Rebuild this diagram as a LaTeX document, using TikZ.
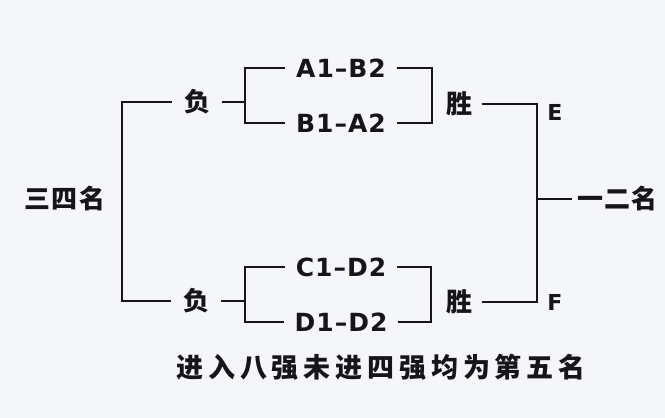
\documentclass[tikz,border=0pt]{standalone}
\usepackage{fontspec}
\newfontfamily\cjkwide{Noto Sans CJK SC}[LetterSpace=4]
\newfontfamily\cjkplain{Noto Sans CJK SC}
\newfontfamily\cjknote{Noto Sans CJK SC}[LetterSpace=18]
\newfontfamily\latinwide{DejaVu Sans}[LetterSpace=4]
\newfontfamily\latinplain{DejaVu Sans}
\definecolor{paper}{RGB}{245,246,248}
\definecolor{ink}{RGB}{22,22,24}
\tikzset{
  rank/.style={font=\cjkwide\bfseries\fontsize{26}{28}\selectfont, inner ysep=0pt, inner xsep=5pt},
  lose/.style={font=\cjkplain\bfseries\fontsize{26}{28}\selectfont, inner ysep=0pt, inner xsep=11pt},
  win/.style={font=\cjkplain\bfseries\fontsize{26}{28}\selectfont, inner ysep=0pt, inner xsep=9pt},
  game/.style={font=\latinwide\bfseries\fontsize{25}{27}\selectfont, inner ysep=0pt, inner xsep=10pt},
  team/.style={font=\latinplain\bfseries\fontsize{22}{24}\selectfont, inner sep=0pt},
  note/.style={font=\cjknote\bfseries\fontsize{27}{29}\selectfont, inner sep=0pt}
}
\begin{document}
\begin{tikzpicture}[x=1pt,y=-1pt,line width=1.4pt,draw=ink,text=ink]
  \fill[paper] (0,0) rectangle (665,418);
  \useasboundingbox (0,0) rectangle (665,418);
  \node[rank] (sansi) at (65,199) {三四名};
  \node[lose] (fuA) at (197,102) {负};
  \node[lose] (fuC) at (196,301) {负};
  \node[game] (AB) at (341,68) {A1–B2};
  \node[game] (BA) at (341,123) {B1–A2};
  \node[game] (CD) at (341,267) {C1–D2};
  \node[game] (DD) at (341,322) {D1–D2};
  \node[win] (shengA) at (459,104) {胜};
  \node[win] (shengC) at (459,302) {胜};
  \node[team] (E) at (555,112) {E};
  \node[team] (F) at (555,302) {F};
  \node[rank,anchor=west] (yier) at (572,199) {一二名};
  \node[note] (note) at (381,367) {进入八强未进四强均为第五名};
  \coordinate (L) at (122,200);
  \coordinate (lA) at (245,95);
  \coordinate (lC) at (245,294);
  \coordinate (rA) at (432,95);
  \coordinate (rC) at (431,294);
  \coordinate (R) at (537,199);
  \draw (fuA.west) -| (L) |- (fuC.west);
  \draw (fuA.east) -- (fuA.east -| lA);
  \draw (fuC.east) -- (fuC.east -| lC);
  \draw (AB.west) -| (lA) |- (BA.west);
  \draw (CD.west) -| (lC) |- (DD.west);
  \draw (AB.east) -| (rA) |- (BA.east);
  \draw (CD.east) -| (rC) |- (DD.east);
  \draw (shengA.east) -| (R) |- (shengC.east);
  \draw (R) -- (yier.west);
\end{tikzpicture}
\end{document}
